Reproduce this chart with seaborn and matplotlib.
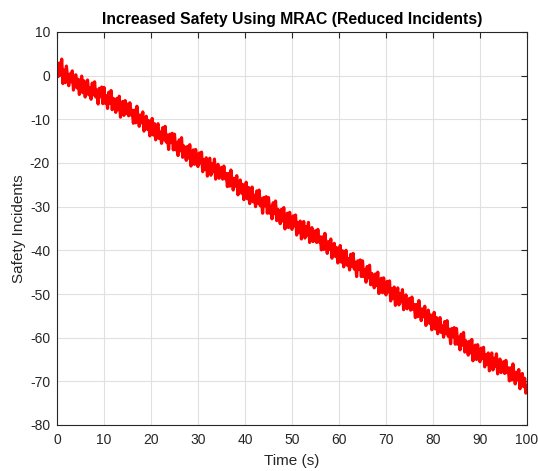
import numpy as np
import pandas as pd
import matplotlib
matplotlib.use("Agg")
import matplotlib.pyplot as plt
import seaborn as sns

# time axis (s), sampled every 0.25 s
time_s = np.arange(0, 100.25, 0.25)

# safety incidents (noisy, decreasing)
incidents = [
    2.5, -0.2, 2.9, 0.1, 3.8, -1.8, 1.3, -1.6, 2.2, -0.4, -2.3, 0.4, -1.4, 1.1, -3.3, -0.9, 0.2, -2.8, -0.8, -4.3,
    -2.8, -0.1, -3.9, -1.2, -4.9, -2.1, -1.0, -4.4, -2.8, -5.4, -1.7, -4.4, -1.4, -4.9, -3.3, -6.5, -2.9, -4.8, -2.6, -6.4,
    -2.7, -6.3, -4.6, -7.5, -3.8, -6.3, -3.4, -7.8, -5.2, -6.5, -8.4, -5.2, -7.8, -4.7, -9.5, -7.0, -5.9, -9.1, -5.7, -8.7,
    -6.5, -9.2, -6.2, -9.0, -7.9, -10.9, -7.9, -10.8, -7.0, -9.6, -11.6, -9.0, -10.8, -8.3, -12.7, -10.3, -9.3, -12.3, -10.3, -13.8,
    -12.4, -9.8, -13.6, -11.0, -14.7, -12.0, -11.0, -14.4, -12.9, -15.5, -11.9, -14.7, -11.6, -15.2, -13.6, -16.9, -13.4, -15.3, -13.2, -17.0,
    -13.4, -17.0, -15.4, -18.3, -14.7, -17.2, -14.2, -18.7, -16.1, -17.5, -19.4, -16.2, -18.9, -15.8, -20.7, -18.2, -17.0, -20.3, -16.9, -20.0,
    -20.8, -17.7, -20.0, -17.5, -22.0, -19.2, -21.5, -18.8, -23.0, -20.2, -18.9, -22.8, -20.1, -22.0, -19.1, -23.7, -21.6, -20.3, -23.5, -21.5,
    -21.0, -23.7, -20.7, -23.6, -22.4, -25.4, -22.4, -25.3, -21.6, -24.2, -26.2, -23.5, -25.3, -22.9, -27.3, -24.9, -23.9, -26.9, -24.9, -28.4,
    -27.0, -24.4, -28.2, -25.6, -29.3, -26.6, -25.5, -28.9, -27.4, -30.0, -26.4, -29.2, -26.2, -29.8, -28.2, -31.5, -27.9, -29.8, -27.7, -31.5,
    -27.9, -31.5, -29.9, -32.8, -29.1, -31.6, -28.7, -33.2, -30.6, -32.0, -33.9, -30.6, -33.3, -30.2, -35.1, -32.6, -31.5, -34.8, -31.3, -34.4,
    -35.2, -32.1, -34.4, -31.9, -36.5, -33.6, -35.9, -33.3, -37.4, -34.7, -33.4, -37.2, -34.6, -36.5, -33.6, -38.2, -36.0, -34.8, -38.0, -36.0,
    -35.5, -38.2, -35.2, -38.1, -36.9, -39.9, -36.9, -39.8, -36.1, -38.7, -40.7, -38.0, -39.8, -37.4, -41.8, -39.4, -38.4, -41.4, -39.4, -42.9,
    -41.5, -38.9, -42.7, -40.1, -43.8, -41.1, -40.0, -43.4, -41.9, -44.5, -40.9, -43.7, -40.7, -44.3, -42.7, -46.0, -42.4, -44.3, -42.2, -46.0,
    -42.4, -46.0, -44.4, -47.3, -43.7, -46.3, -43.4, -47.9, -45.3, -46.7, -48.6, -45.4, -48.1, -45.0, -49.9, -47.5, -46.4, -49.7, -46.3, -49.4,
    -50.2, -47.1, -49.5, -47.0, -51.6, -48.8, -51.0, -48.4, -52.6, -49.9, -48.6, -52.5, -49.9, -51.8, -49.0, -53.6, -51.4, -50.2, -53.4, -51.5,
    -51.0, -53.7, -50.7, -53.5, -52.4, -55.4, -52.4, -55.2, -51.5, -54.1, -56.1, -53.4, -55.2, -52.8, -57.2, -54.7, -53.7, -56.7, -54.8, -58.2,
    -56.8, -54.2, -58.0, -55.4, -59.1, -56.4, -55.4, -58.8, -57.3, -59.9, -56.3, -59.1, -56.1, -59.7, -58.1, -61.4, -57.9, -59.8, -57.7, -61.5,
    -57.9, -61.5, -59.9, -62.8, -59.2, -61.7, -58.8, -63.3, -60.7, -62.1, -64.0, -60.8, -63.5, -60.4, -65.3, -62.8, -61.7, -65.0, -61.6, -64.7,
    -65.5, -62.4, -64.7, -62.2, -66.7, -63.9, -66.1, -63.5, -67.6, -64.9, -63.5, -67.4, -64.7, -66.6, -63.7, -68.3, -66.1, -64.9, -68.0, -66.1,
    -65.5, -68.2, -65.2, -68.0, -66.9, -69.9, -66.9, -69.7, -66.0, -68.6, -70.6, -67.9, -69.7, -67.3, -71.7, -69.2, -68.2, -71.2, -69.3, -72.7,
    -71.0,
]

x_ticks = [0, 10, 20, 30, 40, 50, 60, 70, 80, 90, 100]
y_ticks = [-80, -70, -60, -50, -40, -30, -20, -10, 0, 10]

title = "Increased Safety Using MRAC (Reduced Incidents)"
x_label = "Time (s)"
y_label = "Safety Incidents"

sns.set_style("white")
plt.rcParams['font.family'] = ['Liberation Sans', 'DejaVu Sans']
plt.rcParams['axes.unicode_minus'] = False

df = pd.DataFrame({"t": time_s, "v": incidents})

fig = plt.figure(figsize=(5.38, 4.71), dpi=100)
ax = fig.add_axes([57/538, 1 - 425/471, 470/538, 393/471])

sns.lineplot(data=df, x="t", y="v", color="#ff0000", linewidth=2.3, ax=ax)

ax.set_xlim(0, 100)
ax.set_ylim(-80, 10)
ax.set_xticks(x_ticks)
ax.set_yticks(y_ticks)
ax.grid(True, color="#e0e0e0", linewidth=0.8)
ax.set_axisbelow(True)

dark = "#262626"
for s in ax.spines.values():
    s.set_visible(True)
    s.set_color(dark)
    s.set_linewidth(0.8)
ax.tick_params(axis="both", which="both", direction="in", length=4,
               top=True, right=True, colors=dark, labelsize=10,
               width=0.8)
ax.tick_params(axis="x", pad=6)
ax.tick_params(axis="y", pad=5)

ax.set_xlabel(x_label, fontsize=11, color=dark, labelpad=5)
ax.set_ylabel(y_label, fontsize=11, color=dark, labelpad=3)
ax.set_title(title, fontsize=11.3, fontweight="bold", color="black", pad=6)

fig.savefig("out.png", dpi=100)
